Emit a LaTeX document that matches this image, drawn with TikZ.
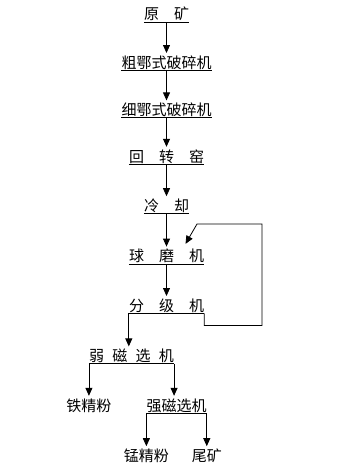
\documentclass[tikz,border=0pt]{standalone}
\usepackage{fontspec}
\newfontfamily\cjk{Noto Sans CJK SC}
\usepackage{tikz}
\usetikzlibrary{positioning, arrows.meta}

\begin{document}
\begin{tikzpicture}[
  x=1pt, y=-1pt,
  node distance=34pt,
  stage/.style={font=\cjk\fontsize{15}{18}\selectfont, inner xsep=0pt, inner ysep=0pt,
                text height=13pt, text depth=2pt},
  uline/.style={line width=0.8pt},
  arr/.style={-{Triangle[length=8pt, width=7pt]}, line width=0.8pt, shorten >=2pt},
]
  \useasboundingbox (0,0) rectangle (353,471);

  \node[stage, anchor=south] (ore) at (166.5,22) {原\hspace{1em}矿};
  \node[stage, below=33pt of ore] (coarse) {粗鄂式破碎机};
  \node[stage, below=32pt of coarse] (fine) {细鄂式破碎机};
  \node[stage, below=31pt of fine] (kiln) {回\hspace{1em}转\hspace{1em}窑};
  \node[stage, below=of kiln] (cool) {冷\hspace{1em}却};
  \node[stage, below=35pt of cool] (mill) {球\hspace{1em}磨\hspace{1em}机};
  \node[stage, below=of mill] (classify) {分\hspace{1em}级\hspace{1em}机};

  \node[stage, below=35pt of classify, xshift=-35pt] (weak) {弱\hspace{0.55em}磁\hspace{0.55em}选\hspace{0.55em}机};
  \node[stage, below=of weak.south west] (iron) {铁精粉};
  \node[stage, below=of weak.south east, xshift=2.5pt] (strong) {强磁选机};
  \node[stage, below=35pt of strong.south west] (mn) {锰精粉};
  \node[stage, below=35pt of strong.south east] (tail) {尾矿};

  \foreach \n in {ore,coarse,fine,kiln,cool,mill,classify,weak,strong}
    \draw[uline] (\n.south west) -- (\n.south east);

  \draw[arr] (ore) -- (coarse);
  \draw[arr] (coarse) -- (fine);
  \draw[arr] (fine) -- (kiln);
  \draw[arr] (kiln) -- (cool);
  \draw[arr] (cool) -- (mill);
  \draw[arr] (mill) -- (classify);

  % return of coarse fraction to the mill
  \coordinate (loopR) at (262,224);
  \coordinate (loopL) at (197,224);
  \draw[arr] (classify.south east) -- ++(0,12) -| (loopR) -- (loopL)
    -- ([xshift=18pt, yshift=3pt]mill.north);

  \draw[arr] (classify.south west) -- (classify.south west |- weak.north);
  \draw[arr] (weak.south west) -- (iron.north);
  \draw[arr] (weak.south east) -- (weak.south east |- strong.north);
  \draw[arr] (strong.south west) -- (mn.north);
  \draw[arr] (strong.south east) -- (tail.north);
\end{tikzpicture}
\end{document}
